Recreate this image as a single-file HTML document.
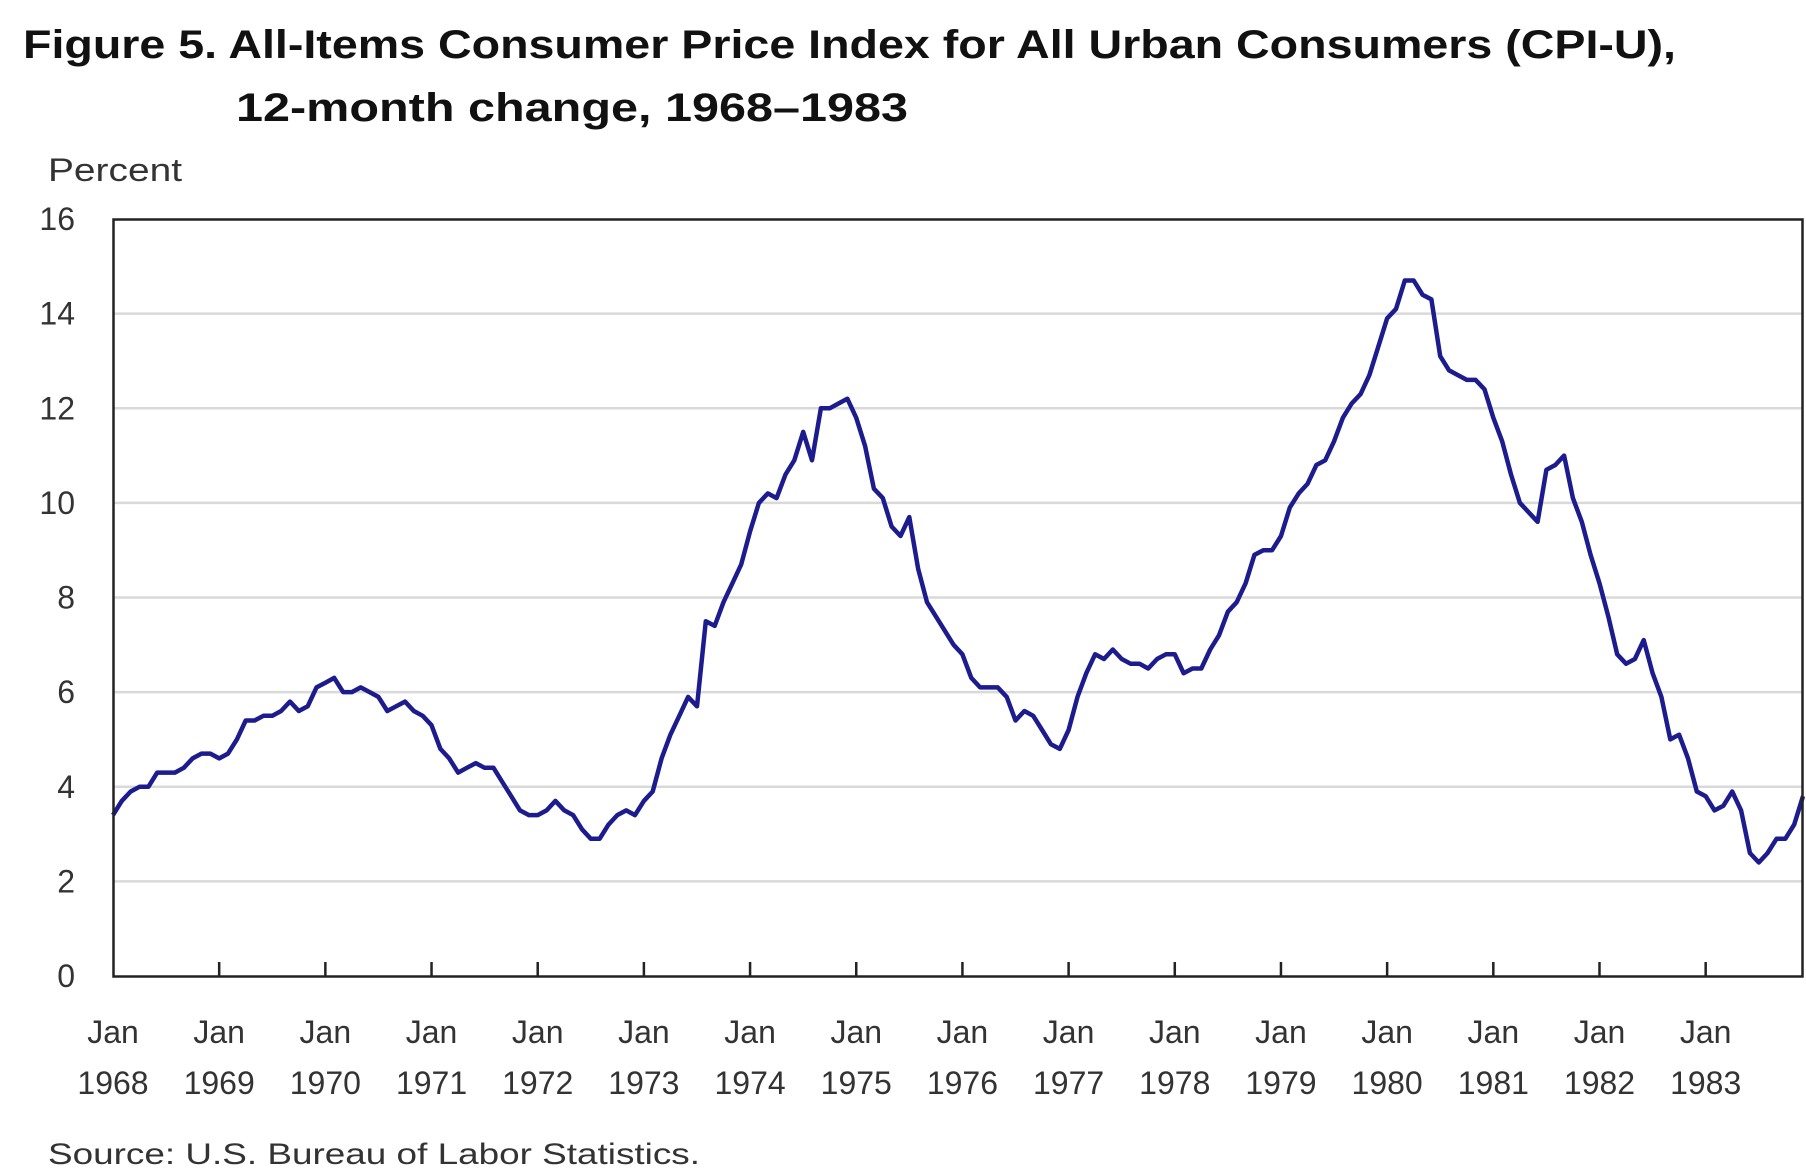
<!DOCTYPE html>
<html><head><meta charset="utf-8"><style>
html,body{margin:0;padding:0;background:#fff;}
svg{display:block;}
text{font-family:"Liberation Sans",sans-serif;}
</style></head><body>
<svg id="chart" width="1806" height="1174" viewBox="0 0 1806 1174">
<text x="23" y="58" font-size="40" font-weight="bold" fill="#111" textLength="1653" lengthAdjust="spacingAndGlyphs">Figure 5. All-Items Consumer Price Index for All Urban Consumers (CPI-U),</text>
<text x="236" y="121" font-size="40" font-weight="bold" fill="#111" textLength="672" lengthAdjust="spacingAndGlyphs">12-month change, 1968–1983</text>
<text x="48" y="181" font-size="32" fill="#333" textLength="134" lengthAdjust="spacingAndGlyphs">Percent</text>
<g id="grid"></g>
<g id="yt"></g>
<g id="xt"></g>
<path id="line" fill="none" stroke="#1c1c8e" stroke-width="4.5" stroke-linejoin="round"></path>
<rect x="113.5" y="219.5" width="1689" height="757" fill="none" stroke="#222" stroke-width="2.5"></rect>
<text x="48" y="1164" font-size="30" fill="#333" textLength="652" lengthAdjust="spacingAndGlyphs">Source: U.S. Bureau  of Labor Statistics.</text>
</svg>
<script>
const yTicks = [0,2,4,6,8,10,12,14,16];
const years = ["1968","1969","1970","1971","1972","1973","1974","1975","1976","1977","1978","1979","1980","1981","1982","1983"];
const values = [
3.4,3.7,3.9,4.0,4.0,4.3,4.3,4.3,4.4,4.6,4.7,4.7,
4.6,4.7,5.0,5.4,5.4,5.5,5.5,5.6,5.8,5.6,5.7,6.1,
6.2,6.3,6.0,6.0,6.1,6.0,5.9,5.6,5.7,5.8,5.6,5.5,
5.3,4.8,4.6,4.3,4.4,4.5,4.4,4.4,4.1,3.8,3.5,3.4,
3.4,3.5,3.7,3.5,3.4,3.1,2.9,2.9,3.2,3.4,3.5,3.4,
3.7,3.9,4.6,5.1,5.5,5.9,5.7,7.5,7.4,7.9,8.3,8.7,
9.4,10.0,10.2,10.1,10.6,10.9,11.5,10.9,12.0,12.0,12.1,12.2,
11.8,11.2,10.3,10.1,9.5,9.3,9.7,8.6,7.9,7.6,7.3,7.0,
6.8,6.3,6.1,6.1,6.1,5.9,5.4,5.6,5.5,5.2,4.9,4.8,
5.2,5.9,6.4,6.8,6.7,6.9,6.7,6.6,6.6,6.5,6.7,6.8,
6.8,6.4,6.5,6.5,6.9,7.2,7.7,7.9,8.3,8.9,9.0,9.0,
9.3,9.9,10.2,10.4,10.8,10.9,11.3,11.8,12.1,12.3,12.7,13.3,
13.9,14.1,14.7,14.7,14.4,14.3,13.1,12.8,12.7,12.6,12.6,12.4,
11.8,11.3,10.6,10.0,9.8,9.6,10.7,10.8,11.0,10.1,9.6,8.9,
8.3,7.6,6.8,6.6,6.7,7.1,6.4,5.9,5.0,5.1,4.6,3.9,
3.8,3.5,3.6,3.9,3.5,2.6,2.4,2.6,2.9,2.9,3.2,3.8];
const NS="http://www.w3.org/2000/svg";
const L=113,R=1803,T=219,B=976;
const y=v=>B-(v/16)*(B-T);
const x=i=>L+i*(R-L)/(values.length-1);
function mk(tag,attrs,parent,txt){const e=document.createElementNS(NS,tag);for(const k in attrs)e.setAttribute(k,attrs[k]);if(txt!==undefined)e.textContent=txt;document.getElementById(parent).appendChild(e);return e;}
yTicks.forEach(t=>{
  if(t>0&&t<16){const g=mk('line',{x1:L,x2:R,y1:y(t),y2:y(t),stroke:'#d9d9d9','stroke-width':2.5},'grid');
  
  }
  const lb=mk('text',{x:75,y:y(t)+11,'font-size':32,fill:'#333','text-anchor':'end'},'yt',String(t));
  
  
});
years.forEach((yr,k)=>{
  const xx=x(k*12);
  if(k>0){const tk=mk('line',{x1:xx,x2:xx,y1:B,y2:B-14,stroke:'#222','stroke-width':2.5},'xt');
  
  }
  const a=mk('text',{x:xx,y:1043,'font-size':32,fill:'#333','text-anchor':'middle'},'xt','Jan');
  
  
  const b=mk('text',{x:xx,y:1094,'font-size':32,fill:'#333','text-anchor':'middle'},'xt',yr);
  
  
});
document.getElementById('line').setAttribute('d',values.map((v,i)=>(i?'L':'M')+x(i).toFixed(1)+','+y(v).toFixed(1)).join(''));
</script>
</body></html>
